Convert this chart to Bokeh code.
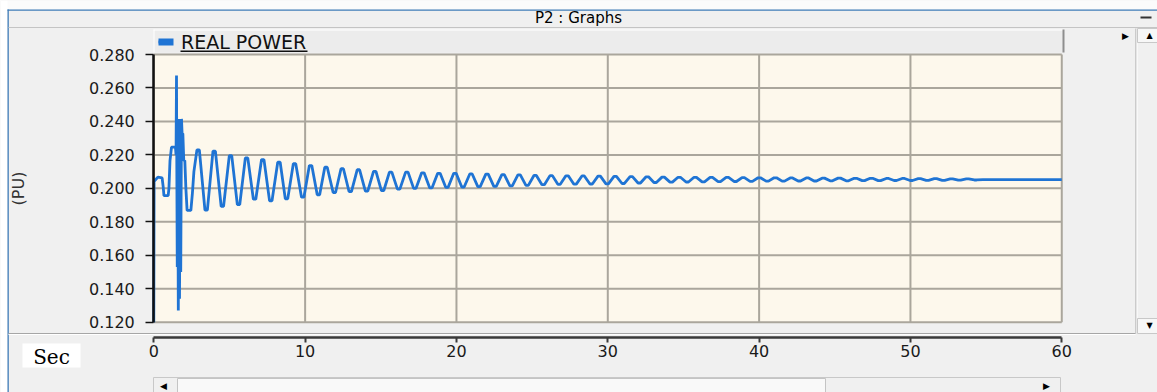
from bokeh.plotting import figure
from bokeh.models import (FixedTicker, PrintfTickFormatter, BoxAnnotation, Label,
                          ColumnDataSource, Range1d, Legend, LegendItem)
from bokeh.embed import file_html
from bokeh.resources import INLINE

# ---------------- data ----------------
window_title = "P2 : Graphs"
series_name = "REAL POWER"
y_label = "(PU)"
x_label = "Sec"

x_ticks = [0, 10, 20, 30, 40, 50, 60]
y_ticks = [0.12, 0.14, 0.16, 0.18, 0.20, 0.22, 0.24, 0.26, 0.28]

# start-up transient (time s, value pu); first point is off-scale low
early_t = [0.00, 0.02, 0.10, 0.27, 0.55, 0.62, 0.67, 0.95, 1.00, 1.07,
           1.17, 1.43, 1.47, 1.50, 1.52, 1.55, 1.58, 1.62, 1.66, 1.70,
           1.74, 1.78, 1.83, 1.87, 1.92, 1.98, 2.05, 2.12, 2.20, 2.45,
           2.55, 2.65]
early_v = [0.1200, 0.2040, 0.2050, 0.2067, 0.2062, 0.2010, 0.1957, 0.1957, 0.2000, 0.2166,
           0.2246, 0.2246, 0.2200, 0.2675, 0.2150, 0.1530, 0.2300, 0.1270, 0.2415, 0.1340,
           0.2415, 0.1500, 0.2415, 0.2327, 0.2327, 0.2166, 0.2166, 0.2000, 0.1868, 0.1868,
           0.1970, 0.2100]
# oscillation peaks
peak_t = [2.93, 3.99, 5.07, 6.13, 7.20, 8.27, 9.30, 10.36, 11.38, 12.45,
          13.52, 14.60, 15.65, 16.72, 17.78, 18.84, 19.90, 20.96, 22.02, 23.08,
          24.14, 25.20, 26.26, 27.31, 28.37, 29.43, 30.49, 31.55, 32.61, 33.66,
          34.72, 35.78, 36.84, 37.90, 38.95, 40.01, 41.07, 42.13, 43.19, 44.24,
          45.30, 46.36, 47.42, 48.48, 49.53, 50.59, 51.65, 52.71, 53.77]
peak_v = [0.2230, 0.2222, 0.2196, 0.2182, 0.2172, 0.2156, 0.2147, 0.2136, 0.2126, 0.2117,
          0.2111, 0.2102, 0.2097, 0.2097, 0.2093, 0.2090, 0.2090, 0.2086, 0.2085, 0.2082,
          0.2080, 0.2077, 0.2076, 0.2075, 0.2074, 0.2073, 0.2072, 0.2070, 0.2069, 0.2067,
          0.2066, 0.2066, 0.2065, 0.2065, 0.2064, 0.2063, 0.2063, 0.2062, 0.2062, 0.2061,
          0.2061, 0.2060, 0.2060, 0.2059, 0.2059, 0.2058, 0.2058, 0.2057, 0.2056]
# oscillation troughs
trough_t = [3.46, 4.53, 5.60, 6.66, 7.73, 8.77, 9.84, 10.88, 11.93, 12.98,
            14.06, 15.12, 16.18, 17.25, 18.31, 19.37, 20.43, 21.49, 22.55, 23.61,
            24.67, 25.73, 26.78, 27.84, 28.90, 29.96, 31.02, 32.08, 33.13, 34.19,
            35.25, 36.31, 37.37, 38.42, 39.48, 40.54, 41.60, 42.66, 43.71, 44.77,
            45.83, 46.89, 47.95, 49.00, 50.06, 51.12, 52.18, 53.24, 54.30]
trough_v = [0.1870, 0.1893, 0.1903, 0.1935, 0.1925, 0.1937, 0.1947, 0.1961, 0.1975, 0.1981,
            0.1983, 0.1987, 0.1995, 0.2000, 0.2003, 0.2006, 0.2008, 0.2010, 0.2012, 0.2015,
            0.2018, 0.2022, 0.2024, 0.2025, 0.2026, 0.2027, 0.2029, 0.2032, 0.2035, 0.2037,
            0.2038, 0.2039, 0.2040, 0.2041, 0.2042, 0.2043, 0.2043, 0.2044, 0.2044, 0.2045,
            0.2045, 0.2046, 0.2046, 0.2047, 0.2047, 0.2048, 0.2048, 0.2049, 0.2050]
tail_t = [54.80, 60.00]
tail_v = [0.2052, 0.2052]

# ---------------- assemble the trace (sample-and-hold look at extrema) ----------------
HOLD = 0.08
t = list(early_t)
v = list(early_v)
for pt, pv, tt, tv in zip(peak_t, peak_v, trough_t, trough_v):
    t += [pt - HOLD, pt + HOLD, tt - HOLD, tt + HOLD]
    v += [pv, pv, tv, tv]
t += tail_t
v += tail_v
src = ColumnDataSource(dict(t=t, v=v))

# ---------------- geometry: whole canvas is the frame ----------------
W, H = 1157, 392
X0_PX, PX_PER_S = 153.3, 15.133        # pixel of t=0, pixels per second
YTOP_PX, PX_PER_PU = 54.0, 1673.0      # pixel of top tick, pixels per pu
X_AXIS_PX = 337.0                      # the detached time axis


def dx(px):
    return x_ticks[0] + (px - X0_PX) / PX_PER_S


def dy(py):
    return y_ticks[-1] - (py - YTOP_PX) / PX_PER_PU


GREY = "#f0f0f0"
CREAM = "#fdf8ec"
GRID = "#aaa69c"
BLUE = "#1f74d4"
FONT = "DejaVu Sans"

p = figure(width=W, height=H,
           x_range=Range1d(dx(0), dx(W)), y_range=Range1d(dy(H), dy(0)),
           output_backend="svg", toolbar_location=None,
           min_border_left=0, min_border_right=0, min_border_top=0, min_border_bottom=0,
           background_fill_color=GREY, border_fill_color=GREY,
           outline_line_color=None)
p.title.visible = False
p.xgrid.visible = False
p.ygrid.visible = False

# plot panel background and grid (from the tick lists)
p.add_layout(BoxAnnotation(left=x_ticks[0], right=x_ticks[-1], bottom=y_ticks[0],
                           top=y_ticks[-1], fill_color=CREAM, fill_alpha=1,
                           line_color=None, level="image"))
nx, ny = len(x_ticks), len(y_ticks)
p.segment(x0=x_ticks, x1=x_ticks, y0=[y_ticks[0]] * nx, y1=[y_ticks[-1]] * nx,
          line_color=GRID, line_width=2, level="underlay")
p.segment(x0=[x_ticks[0]] * ny, x1=[x_ticks[-1]] * ny, y0=y_ticks, y1=y_ticks,
          line_color=GRID, line_width=2, level="underlay")

trace = p.line("t", "v", source=src, line_width=2.8, color=BLUE)

# axes
xa = p.xaxis[0]
xa.fixed_location = dy(X_AXIS_PX)
xa.bounds = (x_ticks[0], x_ticks[-1])
xa.ticker = FixedTicker(ticks=x_ticks)
xa.axis_line_color = "#3a3a3a"
xa.axis_line_width = 2.5
xa.major_tick_line_color = "#3a3a3a"
xa.major_tick_line_width = 2
xa.major_tick_out = 5
xa.major_tick_in = 0
xa.minor_tick_line_color = None
xa.major_label_standoff = 2
xa.major_label_text_font = FONT
xa.major_label_text_font_size = "16px"
xa.major_label_text_color = "#1a1a1a"

ya = p.yaxis[0]
ya.fixed_location = x_ticks[0]
ya.bounds = (y_ticks[0], y_ticks[-1])
ya.ticker = FixedTicker(ticks=y_ticks)
ya.formatter = PrintfTickFormatter(format="%.3f")
ya.axis_line_color = "#111111"
ya.axis_line_width = 2.5
ya.major_tick_line_color = "#111111"
ya.major_tick_line_width = 1.5
ya.major_tick_out = 8
ya.major_tick_in = 0
ya.minor_tick_line_color = None
ya.major_label_standoff = 11
ya.major_label_text_font = FONT
ya.major_label_text_font_size = "16px"
ya.major_label_text_color = "#1a1a1a"
ya.axis_label = y_label
ya.axis_label_standoff = 58
ya.axis_label_text_font = FONT
ya.axis_label_text_font_size = "16px"
ya.axis_label_text_font_style = "normal"
ya.axis_label_text_color = "#333333"


# ---------------- window chrome ----------------
def box(l, r, tp, b, fill, line=None):
    p.add_layout(BoxAnnotation(left=l, right=r, top=tp, bottom=b,
                               left_units="canvas", right_units="canvas",
                               top_units="canvas", bottom_units="canvas",
                               fill_color=fill, fill_alpha=1,
                               line_color=line, line_width=1, line_alpha=1))


def label(px, py, text, size, font=FONT, color="#111111"):
    p.add_layout(Label(x=dx(px), y=dy(py), text=text, text_font=font,
                       text_font_size=size, text_color=color,
                       text_align="center", text_baseline="middle"))


# outer window edge and title bar
box(0, W, 0, 9, "#fbfbfb")
box(0, 7, 0, H, "#ffffff")
box(7, W, 9, 10.3, "#3f7cb8")
box(7, 8.3, 9, H, "#3f7cb8")
box(8, W, 26.5, 27.5, "#c4c4c4")
label(578, 17, window_title, "15px", color="#000000")
box(1140, 1151, 16, 18, "#333333")

# legend bar
box(153, 1063, 29, 52, "#ececec")
box(153, 1063, 29, 30, "#ffffff")
box(153, 154, 29, 52, "#ffffff")
box(1062, 1064, 29, 52, "#8e8e8e")
box(180, 307, 50, 51.5, "#111111")
label(1125, 35, "\u25b6", "9px", color="#000000")

# right scroll bar
box(1135, 1136, 28, 333, "#a6a6a6")
box(1136, 1137, 28, 333, "#ffffff")
box(1137, W, 28, 42, "#f7f7f7", line="#c8c8c8")
box(1137, W, 318, 333, "#f7f7f7", line="#c8c8c8")
label(1149, 35, "\u25b2", "8px", color="#000000")
label(1149, 325, "\u25bc", "8px", color="#000000")

# separator above the time axis and the time unit box
box(8, 1135, 332.5, 333.5, "#a6a6a6")
box(8, 1135, 333.5, 334.5, "#ffffff")
box(22, 80, 343, 367, "#ffffff")
label(51, 356, x_label, "20px", font="DejaVu Serif", color="#000000")

# bottom scroll bar
box(153, 1060, 377, H, GREY, line="#c8c8c8")
box(177, 825, 378, H, "#f9f9f9", line="#c4c4c4")
label(163, 385, "\u25c0", "9px", color="#000000")
label(1046, 385, "\u25b6", "9px", color="#000000")

# legend
legend = Legend(items=[LegendItem(label=series_name, renderers=[trace])],
                location=(158, H - 52.5), orientation="horizontal",
                margin=0, padding=0, spacing=0,
                glyph_width=15, glyph_height=7, label_standoff=8,
                label_text_font=FONT, label_text_font_size="19px",
                label_text_color="#111111",
                background_fill_alpha=0, border_line_color=None)
p.add_layout(legend)
box(158, 173, 38, 45, BLUE)

open("out.html", "w").write(file_html(p, INLINE))
